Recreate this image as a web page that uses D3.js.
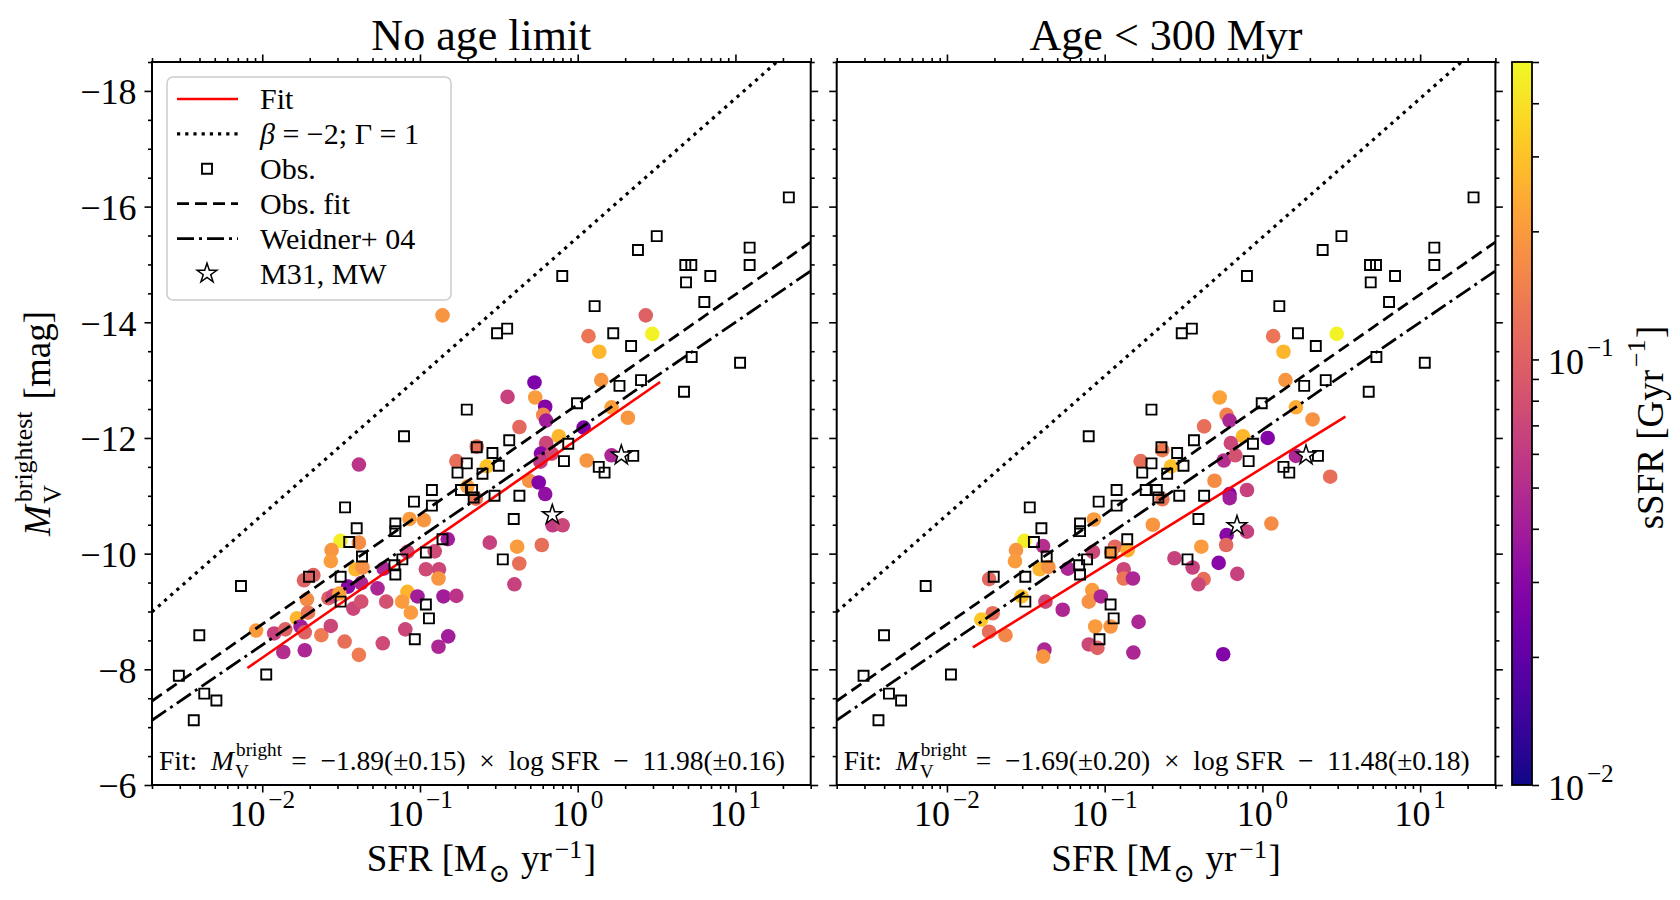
<!DOCTYPE html>
<html lang="en">
<head>
<meta charset="UTF-8">
<title>Brightest cluster magnitude vs SFR</title>
<script src="https://cdn.jsdelivr.net/npm/d3@7/dist/d3.min.js"></script>
<style>
  body { margin: 0; background: #fff; }
  text { font-family: 'Liberation Serif', 'DejaVu Serif', serif; fill: #000; white-space: pre; }
</style>
</head>
<body>
<svg width="1680" height="900" id="mainsvg"></svg>
<script>
// observed galaxies (squares), same in both panels
const obsSFR = [21.8, 3.17, 2.41, 12.3, 4.81, 5.25, 12.3, 6.93, 4.86, 0.798, 6.35, 1.28, 0.308, 0.357, 1.68, 10.7, 2.18, 5.28, 4.72, 2.52,
    1.84, 0.99, 0.198, 0.0792, 0.368, 0.871, 0.229, 0.288, 2.25, 0.198, 0.316, 0.173, 0.818, 1.36, 1.48, 0.249, 0.182, 0.214, 0.119, 0.219,
    0.297, 0.427, 0.0916, 0.119, 0.0335, 0.393, 0.0698, 0.0698, 0.0397, 0.0356, 0.139, 0.0429, 0.109, 0.0773, 0.0689, 0.0698, 0.335, 0.0314, 0.0198, 0.00733,
    0.0314, 0.109, 0.114, 0.00399, 0.0927, 0.0106, 0.00296, 0.00429, 0.00512, 0.00368];
const obsMv = [-16.16, -15.49, -15.25, -15.29, -14.99, -14.99, -14.99, -14.80, -14.69, -14.80, -14.35, -14.28, -13.81, -13.89, -13.81, -13.30, -13.59, -13.40, -12.80, -13.00,
    -12.90, -12.60, -12.49, -12.03, -11.96, -11.90, -11.84, -11.74, -11.69, -11.56, -11.52, -11.40, -11.60, -11.50, -11.40, -11.38, -11.10, -11.10, -11.10, -10.97,
    -11.00, -11.00, -10.90, -10.83, -10.80, -10.60, -10.52, -10.39, -10.44, -10.20, -10.25, -9.95, -10.02, -9.90, -9.80, -9.64, -9.90, -9.60, -9.60, -9.44,
    -9.17, -9.12, -8.88, -8.59, -8.52, -7.91, -7.89, -7.58, -7.46, -7.12];

// simulated galaxies, all clusters
const allSFR = [0.139, 2.70, 1.17, 2.97, 1.37, 1.41, 0.532, 0.359, 0.538, 0.622, 0.604, 0.63, 0.427, 1.64, 2.08, 1.09, 0.759, 0.631, 0.585, 0.685,
    0.58, 1.14, 1.64, 0.041, 0.170, 0.229, 0.265, 0.493, 0.566, 0.622, 0.200, 0.226, 0.0859, 0.106, 0.693, 0.802, 0.0313, 0.041, 0.0275, 0.0272,
    0.039, 0.0432, 0.150, 0.0832, 0.124, 0.0589, 0.109, 0.132, 0.131, 0.277, 0.413, 0.592, 0.426, 0.397, 0.0184, 0.0211, 0.035, 0.0424, 0.0538, 0.0192,
    0.0263, 0.0281, 0.0308, 0.0378, 0.0424, 0.0611, 0.0832, 0.0771, 0.0875, 0.0964, 0.141, 0.170, 0.0166, 0.0195, 0.00914, 0.0119, 0.014, 0.0175, 0.0186, 0.0237,
    0.0272, 0.0333, 0.041, 0.0581, 0.0807, 0.0136, 0.0186, 0.131, 0.151];
const allMv = [-14.12, -14.12, -13.76, -13.80, -13.49, -13.00, -12.96, -12.71, -12.70, -12.54, -12.40, -12.30, -12.19, -12.53, -12.35, -12.18, -12.03, -11.91, -11.73, -11.73,
    -11.59, -11.61, -11.70, -11.54, -11.60, -11.85, -11.51, -11.26, -11.23, -11.03, -11.16, -10.95, -10.60, -10.58, -10.49, -10.49, -10.22, -10.19, -10.06, -9.87,
    -9.73, -9.76, -10.25, -10.03, -10.04, -9.74, -9.73, -9.73, -9.57, -10.19, -10.12, -10.15, -9.83, -9.47, -9.54, -9.63, -9.43, -9.49, -9.40, -9.21,
    -9.23, -9.27, -9.31, -9.05, -9.17, -9.17, -9.34, -9.17, -8.98, -9.26, -9.26, -9.27, -8.88, -8.98, -8.67, -8.62, -8.69, -8.74, -8.64, -8.59,
    -8.75, -8.48, -8.25, -8.45, -8.69, -8.30, -8.33, -8.39, -8.57];
const allSSFR = [0.19, 0.10, 0.13, 0.47, 0.27, 0.19, 0.027, 0.065, 0.2, 0.028, 0.16, 0.04, 0.11, 0.21, 0.19, 0.027, 0.27, 0.07, 0.03, 0.075,
    0.06, 0.19, 0.045, 0.055, 0.12, 0.12, 0.3, 0.18, 0.028, 0.033, 0.21, 0.13, 0.2, 0.19, 0.06, 0.07, 0.45, 0.17, 0.19, 0.2,
    0.26, 0.18, 0.04, 0.07, 0.075, 0.045, 0.075, 0.07, 0.19, 0.065, 0.2, 0.12, 0.12, 0.065, 0.1, 0.1, 0.03, 0.045, 0.045, 0.17,
    0.1, 0.07, 0.22, 0.07, 0.08, 0.08, 0.27, 0.2, 0.2, 0.04, 0.04, 0.055, 0.27, 0.13, 0.2, 0.065, 0.1, 0.04, 0.1, 0.14,
    0.07, 0.12, 0.14, 0.075, 0.07, 0.05, 0.045, 0.045, 0.04];

// simulated galaxies, clusters younger than 300 Myr
const youngSFR = [1.17, 2.96, 1.36, 1.40, 0.536, 0.593, 0.619, 0.427, 1.63, 2.08, 1.08, 0.753, 0.631, 0.570, 0.673, 1.63, 2.69, 0.169, 0.232, 0.264,
    0.497, 0.798, 0.619, 0.62, 0.232, 0.202, 0.0855, 1.14, 0.593, 0.798, 0.589, 0.410, 0.528, 0.277, 0.361, 0.424, 0.393, 0.693, 0.0310, 0.0407,
    0.0274, 0.0270, 0.0387, 0.0440, 0.0585, 0.0843, 0.116, 0.110, 0.140, 0.132, 0.132, 0.151, 0.0185, 0.0195, 0.0165, 0.0297, 0.0421, 0.0542, 0.0834, 0.0793,
    0.0946, 0.164, 0.0871, 0.109, 0.0185, 0.0235, 0.0415, 0.0407, 0.0793, 0.0899, 0.152, 0.564];
const youngMv = [-13.76, -13.80, -13.49, -13.00, -12.70, -12.40, -12.30, -12.20, -12.53, -12.32, -12.00, -12.03, -11.91, -11.61, -11.70, -11.69, -11.33, -11.60, -11.79, -11.51,
    -11.26, -11.10, -11.03, -10.96, -10.94, -10.50, -10.59, -10.52, -10.32, -10.38, -10.15, -10.12, -9.84, -9.92, -9.76, -9.56, -9.47, -9.65, -10.22, -10.13,
    -10.06, -9.87, -9.73, -9.77, -9.74, -10.03, -10.12, -10.02, -10.06, -9.73, -9.57, -9.57, -9.56, -8.97, -8.86, -9.26, -9.17, -9.03, -9.37, -9.17,
    -9.26, -8.82, -8.74, -8.74, -8.65, -8.59, -8.34, -8.22, -8.43, -8.37, -8.29, -8.26];
const youngSSFR = [0.13, 0.47, 0.27, 0.19, 0.22, 0.15, 0.045, 0.12, 0.24, 0.18, 0.028, 0.27, 0.07, 0.05, 0.08, 0.045, 0.12, 0.12, 0.14, 0.3,
    0.17, 0.065, 0.03, 0.04, 0.13, 0.19, 0.2, 0.17, 0.03, 0.065, 0.11, 0.2, 0.03, 0.065, 0.065, 0.12, 0.07, 0.065, 0.45, 0.05,
    0.19, 0.2, 0.26, 0.18, 0.045, 0.07, 0.11, 0.19, 0.25, 0.07, 0.13, 0.045, 0.11, 0.12, 0.32, 0.3, 0.07, 0.045, 0.2, 0.18,
    0.045, 0.045, 0.2, 0.19, 0.12, 0.16, 0.045, 0.19, 0.07, 0.1, 0.045, 0.028];

// M31 and MW
const starSFR = [1.89, 0.69];
const starMvAll = [-11.70, -10.67];
const starMvYoung = [-11.70, -10.48];

// relations: [slope, intercept] in M_V = a * log SFR + b
const fitAll = [-1.89, -11.98];
const fitAllRange = [0.00805, 3.33];
const fitYoung = [-1.69, -11.48];
const fitYoungRange = [0.0146, 3.36];
const theoryLine = [-2.4, -15.47];
const obsFitLine = [-1.9, -12.58];
const weidnerLine = [-1.86, -12.14];
const fitTexts = [' =  −1.89(±0.15)  ×  log SFR  −  11.98(±0.16)', ' =  −1.69(±0.20)  ×  log SFR  −  11.48(±0.18)'];

const panelTitles = ['No age limit', 'Age < 300 Myr'];
const legendLabels = ['Fit', 'β = −2; Γ = 1', 'Obs.', 'Obs. fit', 'Weidner+ 04', 'M31, MW'];
const xTicks = [0.01, 0.1, 1, 10];
const yTicks = [-18, -16, -14, -12, -10, -8, -6];
const cbTicks = [0.01, 0.1];
const sfrLim = [0.002, 30];
const magLim = [-6, -18.5];
const ssfrLim = [0.01, 0.5];

const svg = d3.select('#mainsvg');
svg.append('rect').attr('width', 1680).attr('height', 900).attr('fill', '#fff');

const plotTop = 62, plotW = 658.7, plotH = 723;
const panelX = [152, 836.7];
const tickFs = 36;

const xScale = d3.scaleLog().domain(sfrLim).range([0, plotW]);
const yScale = d3.scaleLinear().domain(magLim).range([plotH, 0]);
const color = d3.scaleSequentialLog(d3.interpolatePlasma).domain(ssfrLim);
const mag = (c, s) => c[0] * Math.log10(s) + c[1];
const expFmt = d3.format('d');

// text with sub/superscripts built from tspans
function rich(text, runs, fs) {
    let base = 0, carry = 0;
    const down = 0.3 * fs, small = 0.7 * fs, gap = 0.08 * fs;
    runs.forEach(r => {
        const up = -(r.up || 0.5) * fs;
        if (r.t !== undefined) {
            const s = text.append('tspan').text(r.t).attr('dy', -base).attr('dx', carry);
            if (r.it) s.attr('font-style', 'italic');
            base = 0; carry = 0;
        } else if (r.sup !== undefined && r.sub !== undefined) {
            const a = text.append('tspan').text(r.sup).attr('font-size', small).attr('dy', up - base).attr('dx', carry + gap);
            const wa = a.node().getComputedTextLength();
            const b = text.append('tspan').text(r.sub).attr('font-size', small).attr('dy', down - up).attr('dx', -wa - gap / 2);
            const wb = b.node().getComputedTextLength();
            base = down; carry = Math.max(0, wa - wb) + gap * 1.5;
        } else if (r.sup !== undefined) {
            text.append('tspan').text(r.sup).attr('font-size', small).attr('dy', up - base).attr('dx', carry + gap);
            base = up; carry = gap / 2;
        } else {
            text.append('tspan').text(r.sub).attr('font-size', small).attr('dy', down - base).attr('dx', carry + gap / 2);
            base = down; carry = gap / 2;
        }
    });
    return text;
}

function styleAxis(sel) {
    sel.select('.domain').remove();
    sel.selectAll('.tick line').attr('stroke', '#000').attr('stroke-width', 1.6);
}

const minorX = xScale.ticks().filter(v => !xTicks.includes(v));
const minorY = yScale.ticks(25).filter(v => !yTicks.includes(v));

const styles = {
    fit: {stroke: 'red', dash: null, width: 2.6},
    theory: {stroke: '#000', dash: '3.2 5', width: 3.2},
    obsfit: {stroke: '#000', dash: '12 6', width: 2.8},
    weidner: {stroke: '#000', dash: '17 5 3 5', width: 2.8}
};
const squareSym = d3.symbol(d3.symbolSquare, 100);
const starSym = d3.symbol(d3.symbolStar, 120);

const panels = [
    {sfr: allSFR, mv: allMv, ssfr: allSSFR, fit: fitAll, range: fitAllRange, starMv: starMvAll},
    {sfr: youngSFR, mv: youngMv, ssfr: youngSSFR, fit: fitYoung, range: fitYoungRange, starMv: starMvYoung}
];

panels.forEach((p, i) => {
    const g = svg.append('g').attr('transform', `translate(${panelX[i]},${plotTop})`);
    g.append('clipPath').attr('id', 'clip' + i)
        .append('rect').attr('width', plotW).attr('height', plotH);
    const inner = g.append('g').attr('clip-path', `url(#clip${i})`);

    // simulated galaxies
    inner.selectAll('circle').data(p.sfr).enter().append('circle')
        .attr('cx', d => xScale(d))
        .attr('cy', (d, j) => yScale(p.mv[j]))
        .attr('r', 7.3)
        .attr('fill', (d, j) => color(p.ssfr[j]));

    const drawLine = (c, dom, st) => {
        const line = d3.line().x(d => xScale(d)).y(d => yScale(mag(c, d)));
        inner.append('path').datum(dom).attr('d', line)
            .attr('fill', 'none').attr('stroke', st.stroke).attr('stroke-width', st.width)
            .attr('stroke-dasharray', st.dash);
    };
    drawLine(p.fit, p.range, styles.fit);
    drawLine(theoryLine, sfrLim, styles.theory);

    inner.selectAll('path.obs').data(obsSFR).enter().append('path').attr('class', 'obs')
        .attr('d', squareSym)
        .attr('transform', (d, j) => `translate(${xScale(d)},${yScale(obsMv[j])})`)
        .attr('fill', 'none').attr('stroke', '#000').attr('stroke-width', 1.9);

    drawLine(obsFitLine, sfrLim, styles.obsfit);
    drawLine(weidnerLine, sfrLim, styles.weidner);

    inner.selectAll('path.star').data(starSFR).enter().append('path').attr('class', 'star')
        .attr('d', starSym)
        .attr('transform', (d, j) => `translate(${xScale(d)},${yScale(p.starMv[j])})`)
        .attr('fill', '#fff').attr('stroke', '#000').attr('stroke-width', 1.5);

    // ticks on all four sides
    g.append('g').attr('transform', `translate(0,${plotH})`)
        .call(d3.axisBottom(xScale).tickValues(xTicks).tickSize(7.5).tickFormat('')).call(styleAxis);
    g.append('g').attr('transform', `translate(0,${plotH})`)
        .call(d3.axisBottom(xScale).tickValues(minorX).tickSize(4).tickFormat('')).call(styleAxis);
    g.append('g').call(d3.axisTop(xScale).tickValues(xTicks).tickSize(7.5).tickFormat('')).call(styleAxis);
    g.append('g').call(d3.axisTop(xScale).tickValues(minorX).tickSize(4).tickFormat('')).call(styleAxis);

    const yAx = d3.axisLeft(yScale).tickValues(yTicks).tickSize(7.5).tickPadding(8)
        .tickFormat(i === 0 ? d3.format('d') : '');
    g.append('g').call(yAx).call(styleAxis)
        .selectAll('.tick text').attr('font-size', tickFs).attr('dy', '0.36em');
    g.append('g').call(d3.axisLeft(yScale).tickValues(minorY).tickSize(4).tickFormat('')).call(styleAxis);
    g.append('g').attr('transform', `translate(${plotW},0)`)
        .call(d3.axisRight(yScale).tickValues(yTicks).tickSize(7.5).tickFormat('')).call(styleAxis);
    g.append('g').attr('transform', `translate(${plotW},0)`)
        .call(d3.axisRight(yScale).tickValues(minorY).tickSize(4).tickFormat('')).call(styleAxis);

    // x tick labels 10^n
    xTicks.forEach(v => {
        const t = g.append('text').attr('x', xScale(v)).attr('y', plotH + 41)
            .attr('text-anchor', 'middle').attr('font-size', tickFs);
        rich(t, [{t: '10'}, {sup: expFmt(Math.round(Math.log10(v)))}], tickFs);
    });

    // frame
    g.append('rect').attr('width', plotW).attr('height', plotH)
        .attr('fill', 'none').attr('stroke', '#000').attr('stroke-width', 2);

    // title and x label
    g.append('text').attr('x', plotW / 2).attr('y', -12).attr('text-anchor', 'middle')
        .attr('font-size', 44).text(panelTitles[i]);
    const xl = g.append('text').attr('x', plotW / 2).attr('y', plotH + 86)
        .attr('text-anchor', 'middle').attr('font-size', 37);
    rich(xl, [{t: 'SFR [M'}, {sub: '⊙'}, {t: ' yr'}, {sup: '−1', up: 0.34}, {t: ']'}], 37);

    // fit annotation
    const ft = g.append('text').attr('x', 7).attr('y', plotH - 15).attr('font-size', 27.5);
    rich(ft, [{t: 'Fit:  '}, {t: 'M', it: true}, {sup: 'bright', sub: 'V'}, {t: fitTexts[i]}], 27.5);

    if (i === 0) {
        const yl = g.append('text').attr('transform', `translate(${50 - panelX[0]},${plotH / 2}) rotate(-90)`)
            .attr('text-anchor', 'middle').attr('font-size', 37);
        rich(yl, [{t: 'M', it: true}, {sup: 'brightest', sub: 'V'}, {t: ' [mag]'}], 37);

        // legend
        const lg = g.append('g').attr('transform', 'translate(15,15)');
        lg.append('rect').attr('width', 284).attr('height', 223).attr('rx', 6)
            .attr('fill', '#fff').attr('fill-opacity', 0.8)
            .attr('stroke', '#cccccc').attr('stroke-width', 1.5);
        const handles = ['fit', 'theory', 'square', 'obsfit', 'weidner', 'star'];
        legendLabels.forEach((lab, k) => {
            const yy = 22 + k * 34.9;
            const h = handles[k];
            if (styles[h]) {
                const st = styles[h];
                lg.append('line').attr('x1', 10).attr('x2', 71).attr('y1', yy).attr('y2', yy)
                    .attr('stroke', st.stroke).attr('stroke-width', st.width)
                    .attr('stroke-dasharray', st.dash);
            } else if (h === 'square') {
                lg.append('path').attr('d', squareSym).attr('transform', `translate(40,${yy})`)
                    .attr('fill', 'none').attr('stroke', '#000').attr('stroke-width', 1.9);
            } else {
                lg.append('path').attr('d', starSym).attr('transform', `translate(40,${yy})`)
                    .attr('fill', '#fff').attr('stroke', '#000').attr('stroke-width', 1.5);
            }
            const lt = lg.append('text').attr('x', 93).attr('y', yy + 10).attr('font-size', 30);
            if (k === 1) rich(lt, [{t: 'β', it: true}, {t: lab.slice(1)}], 30);
            else lt.text(lab);
        });
    }
});

// colorbar
const cbX = 1512, cbW = 20;
const cbScale = d3.scaleLog().domain(ssfrLim).range([plotH, 0]);
const cb = svg.append('g').attr('transform', `translate(${cbX},${plotTop})`);
const grad = svg.append('defs').append('linearGradient').attr('id', 'cbgrad')
    .attr('x1', 0).attr('y1', 1).attr('x2', 0).attr('y2', 0);
d3.range(0, 1.0001, 0.02).forEach(f => {
    grad.append('stop').attr('offset', f).attr('stop-color', color(cbScale.invert(plotH * (1 - f))));
});
cb.append('rect').attr('width', cbW).attr('height', plotH).attr('fill', 'url(#cbgrad)');
cb.append('g').attr('transform', `translate(${cbW},0)`)
    .call(d3.axisRight(cbScale).tickValues(cbScale.ticks()).tickSize(7).tickFormat('')).call(styleAxis);
cb.append('rect').attr('width', cbW).attr('height', plotH)
    .attr('fill', 'none').attr('stroke', '#000').attr('stroke-width', 1.8);
cbTicks.forEach(v => {
    const t = cb.append('text').attr('x', cbW + 16).attr('y', cbScale(v) + 15).attr('font-size', tickFs);
    rich(t, [{t: '10'}, {sup: expFmt(Math.round(Math.log10(v)))}], tickFs);
});
const cl = cb.append('text').attr('transform', `translate(${1663 - cbX},${plotH / 2 + 4}) rotate(-90)`)
    .attr('text-anchor', 'middle').attr('font-size', 37);
rich(cl, [{t: 'sSFR [Gyr'}, {sup: '−1'}, {t: ']'}], 37);
</script>
</body>
</html>
